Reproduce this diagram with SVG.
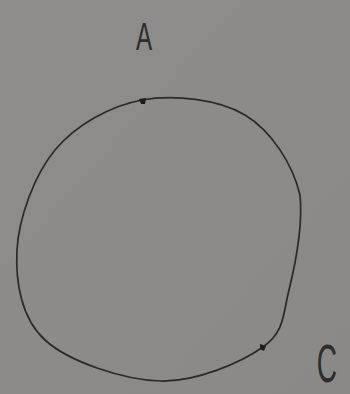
<svg xmlns="http://www.w3.org/2000/svg" width="350" height="394" viewBox="0 0 350 394">
  <style>
    .ink { fill: none; stroke: #2b2a29; stroke-width: 1.7; stroke-linecap: round; stroke-linejoin: round; }
    .dot { fill: #1e1d1c; }
    .lbl { font-family: "Liberation Sans", "DejaVu Sans", sans-serif; fill: #2e2d2c; font-weight: normal; }
  </style>
  <defs>
    <linearGradient id="paper" x1="0" y1="0" x2="1" y2="1">
      <stop offset="0" stop-color="#8e8d8b"/>
      <stop offset="1" stop-color="#8a8987"/>
    </linearGradient>
  </defs>
  <rect x="0" y="0" width="350" height="394" fill="url(#paper)"/>
  <g id="connectors">
    <path id="circle" class="ink" d="M142,100 C173.7,94.2 218.7,99.2 245,115 C271.3,130.8 292.8,164.2 300,195 C303,225 295.2,264.7 289,290 C282.8,315.3 284.5,331.8 263,347 C241.5,362.2 196.3,382.2 160,381 C123.7,379.8 68.8,361.8 45,340 C21.2,318.2 15.3,281.7 17,250 C18.7,218.3 34.2,175 55,150 C75.8,125 110.3,105.8 142,100 Z"/>
  </g>
  <g id="node-A">
    <path class="dot" d="M139,99 L146,98 L145,104 L141,104 Z"/>
    <text class="lbl" font-size="39" text-anchor="middle" transform="translate(144,50) scale(0.62,1)">A</text>
  </g>
  <g id="node-C">
    <path class="dot" d="M260,344 L266,346 L264,351 L260,349 Z"/>
    <text class="lbl" font-size="54" text-anchor="middle" transform="translate(327,382) scale(0.52,1)">C</text>
  </g>
</svg>
